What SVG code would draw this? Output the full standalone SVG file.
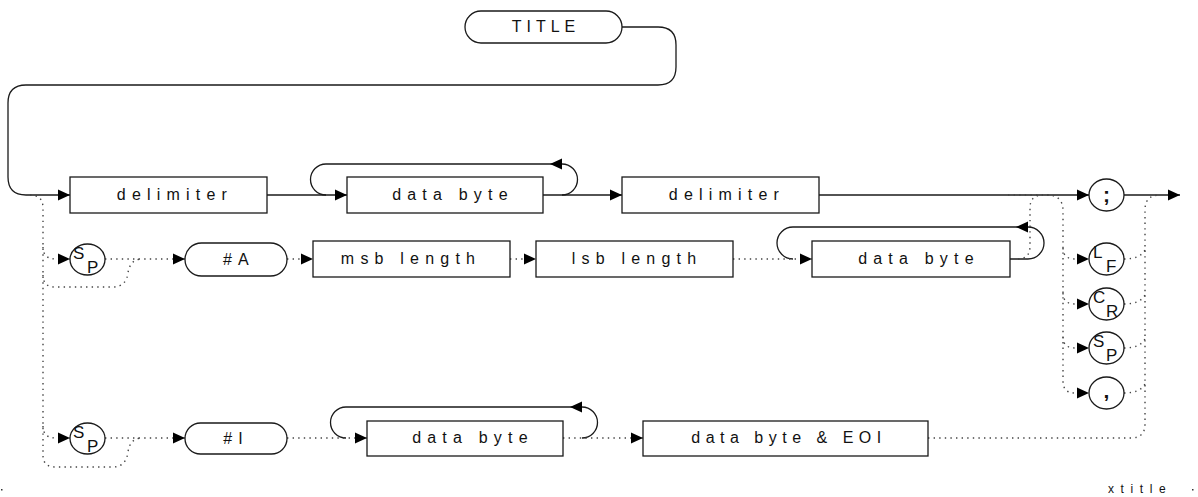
<svg xmlns="http://www.w3.org/2000/svg" width="1198" height="497" viewBox="0 0 1198 497">
<style>
.bx{fill:#fff;stroke:#1a1a1a;stroke-width:1.3}
.ln{fill:none;stroke:#1a1a1a;stroke-width:1.3}
.dt{fill:none;stroke:#444;stroke-width:1.4;stroke-dasharray:1.4 4.2}
.lbl{font-family:"Liberation Sans",Arial,sans-serif;font-size:16px;letter-spacing:6.2px;text-anchor:middle;fill:#111}
.sym{font-family:"Liberation Sans",Arial,sans-serif;font-size:17px;fill:#111}
.pun{font-family:"Liberation Sans",Arial,sans-serif;font-size:21px;font-weight:bold;text-anchor:middle;fill:#111}
.ft{font-family:"Liberation Sans",Arial,sans-serif;font-size:12px;letter-spacing:6.6px;fill:#111}
</style>
<defs>
<marker id="arr" markerWidth="12" markerHeight="12" refX="12" refY="6" orient="auto" markerUnits="userSpaceOnUse" viewBox="0 0 12 12"><path d="M0,0.5 L12,6 L0,11.5 z" fill="#000"/></marker>
</defs>
<rect width="1198" height="497" fill="#fff"/>
<g id="connectors">
<path class="ln" d="M622,27 H658 Q676,27 676,45 V67 Q676,85 658,85 H26 Q8,85 8,103 V177 Q8,195 26,195 H70" marker-end="url(#arr)"/>
<path class="ln" d="M267,195 H347" marker-end="url(#arr)"/>
<path class="ln" d="M562,195 A15.5,15.5 0 0 0 562,164 H550" marker-end="url(#arr)"/>
<path class="ln" d="M550,164 H326 A15.5,15.5 0 0 0 326,195"/>
<path class="ln" d="M543,195 H622" marker-end="url(#arr)"/>
<path class="ln" d="M819,195 H1089" marker-end="url(#arr)"/>
<path class="ln" d="M1124,195 H1180" marker-end="url(#arr)"/>
<path class="ln" d="M1010,259 H1028 A16,16 0 0 0 1028,227 H1016" marker-end="url(#arr)"/>
<path class="ln" d="M1016,227 H793 A16,16 0 0 0 793,259"/>
<path class="ln" d="M582,438 A15.5,15.5 0 0 0 582,407 H570" marker-end="url(#arr)"/>
<path class="ln" d="M570,407 H346 A15.5,15.5 0 0 0 346,438"/>
<path class="dt" d="M30,195 Q43,195 43,208 V455 Q43,467 55,467 H113 Q126,467 128,452 Q130,438 142,438"/>
<path class="dt" d="M43,247 Q43,259 56,259 H70" marker-end="url(#arr)"/>
<path class="dt" d="M43,275 Q43,287 55,287 H113 Q126,287 128,273 Q130,259 142,259"/>
<path class="dt" d="M43,426 Q43,438 56,438 H70" marker-end="url(#arr)"/>
<path class="dt" d="M105,259 H185" marker-end="url(#arr)"/>
<path class="dt" d="M105,438 H185" marker-end="url(#arr)"/>
<path class="dt" d="M287,259 H313" marker-end="url(#arr)"/>
<path class="dt" d="M510,259 H536" marker-end="url(#arr)"/>
<path class="dt" d="M733,259 H812" marker-end="url(#arr)"/>
<path class="dt" d="M287,438 H367" marker-end="url(#arr)"/>
<path class="dt" d="M563,438 H643" marker-end="url(#arr)"/>
<path class="dt" d="M1008,195 H1050"/>
<path class="dt" d="M1018,259 Q1030,259 1030,246 V208 Q1030,195 1043,195"/>
<path class="dt" d="M1047,195 Q1063,195 1063,211 V381 Q1063,393 1075,393 H1089" marker-end="url(#arr)"/>
<path class="dt" d="M1063,248 Q1063,259 1075,259 H1089" marker-end="url(#arr)"/>
<path class="dt" d="M1063,293 Q1063,304 1075,304 H1089" marker-end="url(#arr)"/>
<path class="dt" d="M1063,337 Q1063,348 1075,348 H1089" marker-end="url(#arr)"/>
<path class="dt" d="M928,438 H1131 Q1145,438 1145,424 V210 Q1145,195 1160,195"/>
<path class="dt" d="M1124,259 Q1140,259 1145,250"/>
<path class="dt" d="M1124,304 Q1140,304 1145,295"/>
<path class="dt" d="M1124,348 Q1140,348 1145,339"/>
<path class="dt" d="M1124,393 Q1140,393 1145,384"/>
</g>
<g id="n-title"><rect class="bx" x="465" y="11" width="157" height="32" rx="16"/><text class="lbl" x="546" y="32" style="letter-spacing:5px">TITLE</text></g>
<g id="n-delim1"><rect class="bx" x="70" y="177" width="197" height="36"/><text class="lbl" x="175" y="200">delimiter</text></g>
<g id="n-databyte1"><rect class="bx" x="347" y="177" width="196" height="36"/><text class="lbl" x="453" y="200">data byte</text></g>
<g id="n-delim2"><rect class="bx" x="622" y="177" width="197" height="36"/><text class="lbl" x="727" y="200">delimiter</text></g>
<g id="n-semi"><ellipse class="bx" cx="1106.5" cy="195" rx="17.5" ry="16"/><text class="pun" x="1106.5" y="202">;</text></g>
<g id="n-sp1"><ellipse class="bx" cx="87.5" cy="259.5" rx="17.5" ry="15.5"/><text class="sym" x="73" y="259">S</text><text class="sym" x="87" y="273">P</text></g>
<g id="n-hashA"><rect class="bx" x="185" y="243" width="102" height="33" rx="16.5"/><text class="lbl" x="239" y="265">#A</text></g>
<g id="n-msb"><rect class="bx" x="313" y="241" width="197" height="36"/><text class="lbl" x="411" y="264">msb length</text></g>
<g id="n-lsb"><rect class="bx" x="536" y="241" width="197" height="36"/><text class="lbl" x="637" y="264">lsb length</text></g>
<g id="n-databyte2"><rect class="bx" x="812" y="241" width="198" height="36"/><text class="lbl" x="919" y="264">data byte</text></g>
<g id="n-lf"><ellipse class="bx" cx="1106.5" cy="259" rx="17.5" ry="16"/><text class="sym" x="1093" y="258">L</text><text class="sym" x="1106" y="272">F</text></g>
<g id="n-cr"><ellipse class="bx" cx="1106.5" cy="304" rx="17.5" ry="16"/><text class="sym" x="1093" y="303">C</text><text class="sym" x="1106" y="317">R</text></g>
<g id="n-sp3"><ellipse class="bx" cx="1106.5" cy="348" rx="17.5" ry="16"/><text class="sym" x="1093" y="347">S</text><text class="sym" x="1106" y="361">P</text></g>
<g id="n-comma"><ellipse class="bx" cx="1106.5" cy="393" rx="17.5" ry="16"/><text class="pun" x="1106.5" y="398">,</text></g>
<g id="n-sp2"><ellipse class="bx" cx="87.5" cy="438.5" rx="17.5" ry="15.5"/><text class="sym" x="73" y="438">S</text><text class="sym" x="87" y="452">P</text></g>
<g id="n-hashI"><rect class="bx" x="185" y="423" width="102" height="31" rx="15.5"/><text class="lbl" x="236" y="444">#I</text></g>
<g id="n-databyte3"><rect class="bx" x="367" y="421" width="196" height="35"/><text class="lbl" x="473" y="443">data byte</text></g>
<g id="n-eoi"><rect class="bx" x="643" y="421" width="285" height="35"/><text class="lbl" x="789" y="443" style="letter-spacing:5.5px">data byte &amp; EOI</text></g>
<g id="footer"><text class="ft" x="1108" y="493">xtitle</text><rect x="1" y="489" width="1.5" height="1.5" fill="#333"/><rect x="1192" y="489" width="1.5" height="1.5" fill="#333"/></g>
</svg>
